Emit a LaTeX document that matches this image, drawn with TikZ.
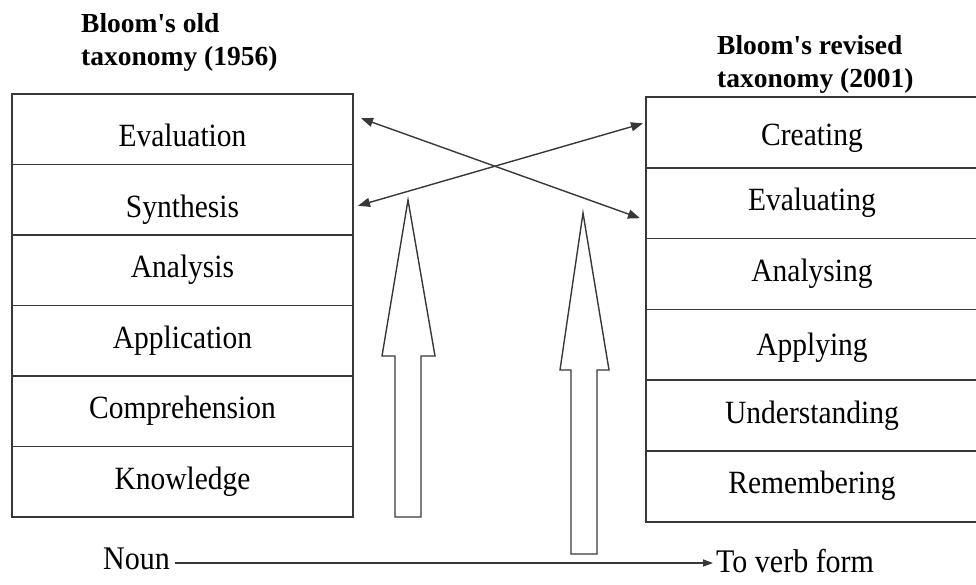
\documentclass[tikz,border=0pt]{standalone}
\usepackage{fontspec}
\setmainfont{Liberation Serif}
\usepackage{xcolor}
\usepackage{tikz}
\usetikzlibrary{positioning,arrows.meta,calc}
\definecolor{linegray}{HTML}{383838}
\newcommand{\tallrow}[1]{\scalebox{1}[1.1]{#1}}

\begin{document}
\begin{tikzpicture}[x=1pt,y=-1pt,
    level/.style={rectangle,draw=linegray,line width=1.6pt,outer sep=0pt,inner sep=0pt,
                  minimum height=70.5pt,text height=21pt,text depth=6pt,
                  font=\fontsize{29.5}{32}\selectfont},
    low/.style={text height=41pt,text depth=6pt},
    oldlevel/.style={level,minimum width=341pt},
    newlevel/.style={level,minimum width=332pt,minimum height=70.8pt},
    title/.style={font=\bfseries\fontsize{27.5}{33}\selectfont,align=left,anchor=north west,inner sep=0pt},
    cross/.style={{Triangle[length=12pt,width=9pt]}-{Triangle[length=12pt,width=9pt]},
                  line width=1.4pt,draw=linegray},
    hollow/.style={draw=linegray,line width=1.4pt},
    word/.style={font=\fontsize{30}{32}\selectfont,inner sep=0pt}
]
\useasboundingbox (0,0) rectangle (976,585);

% titles
\node[title] (oldtitle) at (81,13) {Bloom\textquotesingle s old\\taxonomy (1956)};
\node[title] (newtitle) at (717,35) {Bloom\textquotesingle s revised\\taxonomy (2001)};

% old taxonomy
\node[oldlevel,low] (eval) at (182.5,129.25) {\tallrow{Evaluation}};
\node[oldlevel,low,below=0pt of eval] (synth) {\tallrow{Synthesis}};
\node[oldlevel,below=0pt of synth] (anal) {\tallrow{Analysis}};
\node[oldlevel,below=0pt of anal] (appl) {\tallrow{Application}};
\node[oldlevel,below=0pt of appl] (comp) {\tallrow{Comprehension}};
\node[oldlevel,below=0pt of comp] (know) {\tallrow{Knowledge}};

% revised taxonomy
\node[newlevel,text height=33pt] (create) at (812,132.4) {\tallrow{Creating}};
\node[newlevel,below=0pt of create] (evalg) {\tallrow{Evaluating}};
\node[newlevel,below=0pt of evalg] (analg) {\tallrow{Analysing}};
\node[newlevel,text height=27pt,below=0pt of analg] (applg) {\tallrow{Applying}};
\node[newlevel,below=0pt of applg] (under) {\tallrow{Understanding}};
\node[newlevel,below=0pt of under] (remem) {\tallrow{Remembering}};

% crossing arrows
\coordinate (tipA) at ([xshift=8pt,yshift=11pt]eval.east);
\coordinate (tipB) at ([xshift=5pt,yshift=-6pt]synth.east);
\coordinate (tipC) at ([xshift=-3pt,yshift=9pt]create.west);
\coordinate (tipD) at ([xshift=-6pt,yshift=-15pt]evalg.west);
\draw[cross] (tipA) -- (tipD);
\draw[cross] (tipB) -- (tipC);

% hollow upward arrows
\draw[hollow] (395,517) -- (395,356) -- (382,356) -- (408,200) -- (435,356)
    -- (421,356) -- (421,517) -- cycle;
\draw[hollow] (571,554) -- (571,370) -- (560,370) -- (583,213) -- (609,370)
    -- (597,370) -- (597,554) -- cycle;

% noun to verb
\node[word,anchor=base east] (noun) at (170,569) {\tallrow{Noun}};
\node[word,anchor=base west] (verb) at (716,572) {\tallrow{To verb form}};
\draw[-{Triangle[length=10pt,width=7pt]},line width=1.4pt,draw=linegray]
    ([xshift=5pt,yshift=6pt]noun.base east) -- ([xshift=-3pt,yshift=9pt]verb.base west);
\end{tikzpicture}
\end{document}
